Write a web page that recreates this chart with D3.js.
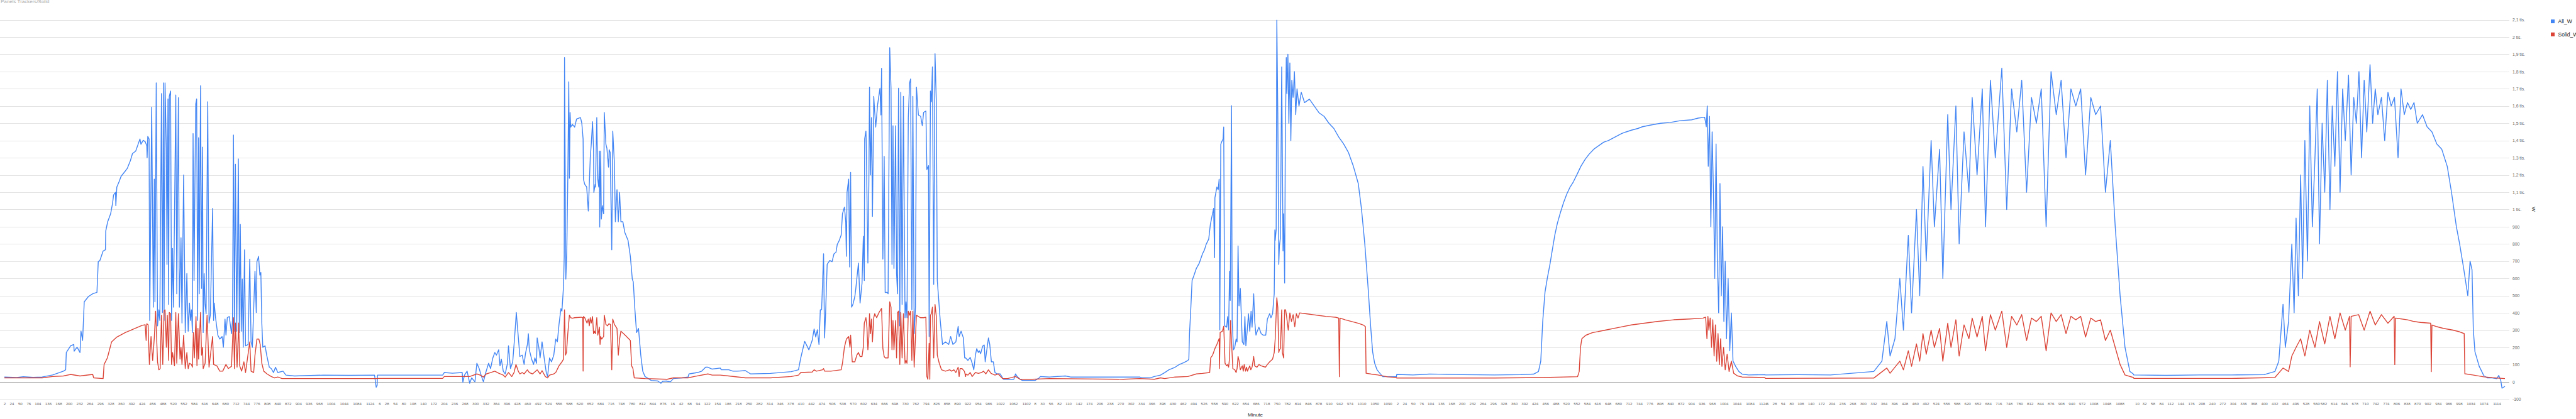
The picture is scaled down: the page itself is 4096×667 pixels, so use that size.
<!DOCTYPE html>
<html><head><meta charset="utf-8">
<script src="https://cdn.jsdelivr.net/npm/d3@7"></script>
<style>html,body{margin:0;padding:0;background:#fff;overflow:hidden}svg{display:block}</style>
</head><body><svg id="c" width="4096" height="667"></svg>
<script>
// ---------------- DATA ----------------
const chartTitle = "Panels Trackers/Solid";
const seriesNames = ["All_W", "Solid_W"];
const xTitle = "Minute";
const yTitle = "W";
// categories: each day's first and last logged minute
const dayStart = [2, 0, 0, 0, 0, 0, 0];
const dayEnd = [1146, 888, 1120, 1117, 1130, 1130, 1139];
// visible x tick labels (minute), per day
const ticksD1 = [2,24,50,76,104,136,168,200,232,264,296,328,360,392,424,456,488,520,552,584,616,648,680,712,744,776,808,840,872,904,936,968,1004,1044,1084,1124];
const ticksD2 = [6,28,54,80,108,140,172,204,236,268,300,332,364,396,428,460,492,524,556,588,620,652,684,716,748,780,812,844,876];
const ticksD3 = [16,42,68,94,122,154,186,218,250,282,314,346,378,410,442,474,506,538,570,602,634,666,698,730,762,794,826,858,890,922,954,986,1022,1062,1102];
const ticksD4 = [8,30,56,82,110,142,174,206,238,270,302,334,366,398,430,462,494,526,558,590,622,654,686,718,750,782,814,846,878,910,942,974,1010,1050,1090];
const ticksD5 = [2,24,50,76,104,136,168,200,232,264,296,328,360,392,424,456,488,520,552,584,616,648,680,712,744,776,808,840,872,904,936,968,1004,1044,1084,1124];
const ticksD6 = [6,28,54,80,108,140,172,204,236,268,300,332,364,396,428,460,492,524,556,588,620,652,684,716,748,780,812,844,876,908,940,972,1008,1048,1088];
const ticksD7 = [10,32,58,84,112,144,176,208,240,272,304,336,368,400,432,464,496,528,560,582,614,646,678,710,742,774,806,838,870,902,934,966,998,1034,1074,1114];
const yTicks = [-100,0,100,200,300,400,500,600,700,800,900,1000,1100,1200,1300,1400,1500,1600,1700,1800,1900,2000,2100];
const yTickLabels = ["-100","0","100","200","300","400","500","600","700","800","900","1 tis.","1,1 tis.","1,2 tis.","1,3 tis.","1,4 tis.","1,5 tis.","1,6 tis.","1,7 tis.","1,8 tis.","1,9 tis.","2 tis.","2,1 tis."];

// All_W [minute, watts] per day
const allW1 = [[2,28],[40,25],[60,30],[90,26],[118,28],[150,40],[183,62],[190,70],[192,170],[205,209],[215,217],[216,178],[225,201],[234,170],[237,294],[242,240],[247,464],[260,495],[273,511],[286,519],[290,697],[295,704],[305,759],[312,766],[313,875],[319,929],[328,975],[334,1037],[337,1084],[343,1099],[344,1022],[347,1130],[354,1161],[360,1192],[373,1223],[379,1238],[389,1285],[395,1324],[405,1339],[415,1393],[418,1409],[421,1378],[428,1401],[434,1393],[439,1370],[440,1300],[442,1424],[446,1409],[448,356],[454,1594],[459,433],[462,1176],[464,464],[468,1734],[472,325],[476,418],[479,356],[484,1672],[487,402],[490,1734],[492,356],[495,1734],[499,1347],[501,681],[504,1641],[506,449],[508,1656],[512,1687],[515,356],[518,774],[521,433],[528,1664],[531,511],[536,1649],[539,433],[544,836],[547,341],[552,1200],[557,286],[562,628],[566,294],[570,457],[573,356],[576,418],[579,286],[581,1440],[584,588],[589,1610],[592,1641],[595,356],[598,1416],[600,511],[604,1718],[607,542],[610,1362],[612,286],[615,628],[618,449],[621,395],[626,1625],[630,341],[634,387],[641,1006],[644,356],[646,457],[650,372],[657,271],[663,248],[670,263],[674,201],[679,364],[682,271],[686,372],[692,379],[699,279],[702,356],[705,1432],[708,294],[711,1262],[715,294],[720,1293],[723,286],[726,913],[729,294],[732,596],[735,201],[739,766],[742,209],[750,217],[755,712],[759,232],[763,201],[771,642],[775,402],[777,697],[782,728],[786,619],[789,635],[792,341],[795,201],[802,209],[807,155],[815,85],[821,77],[828,54],[834,85],[841,54],[857,62],[866,39],[892,34],[980,39],[1060,38],[1138,39],[1140,10],[1143,-31],[1146,-20]];
const allW2 = [[0,39],[100,39],[200,39],[205,54],[230,50],[260,54],[262,-3],[267,39],[275,62],[283,-8],[289,23],[299,0],[305,108],[312,77],[318,39],[325,0],[331,46],[341,108],[347,77],[354,139],[360,170],[365,155],[372,186],[376,93],[380,132],[386,62],[392,46],[399,108],[402,209],[408,77],[415,116],[421,263],[426,402],[432,263],[437,147],[444,155],[450,101],[454,163],[460,217],[463,279],[466,186],[473,132],[479,101],[483,139],[488,108],[490,255],[495,201],[499,139],[505,232],[512,132],[518,54],[522,31],[528,139],[534,116],[541,155],[547,248],[552,232],[557,333],[563,425],[566,410],[571,557],[573,728],[574,1881],[578,596],[581,759],[584,1176],[587,1741],[589,1181],[591,1563],[593,1478],[598,1494],[605,1478],[611,1525],[623,1533],[627,1501],[631,1409],[632,1176],[636,1146],[642,1130],[647,991],[650,1146],[653,1300],[656,1378],[660,1509],[663,1347],[664,1099],[668,1146],[669,1130],[673,1533],[676,1176],[679,1130],[681,1339],[682,898],[685,1339],[687,944],[690,1022],[694,975],[696,1563],[701,1378],[704,1355],[709,1246],[711,1347],[714,1331],[719,766],[722,1455],[727,1270],[730,929],[735,1115],[739,929],[743,1099],[747,929],[753,929],[759,867],[769,820],[776,728],[782,596],[785,580],[790,418],[795,286],[801,310],[808,155],[814,62],[821,31],[840,8],[860,5],[870,-8],[875,3],[888,5]];
const allW3 = [[0,3],[10,0],[19,19],[45,23],[64,28],[67,46],[93,54],[106,62],[118,85],[125,85],[138,74],[163,80],[166,70],[189,70],[202,62],[214,62],[240,65],[256,46],[317,49],[381,59],[403,70],[410,139],[422,235],[435,186],[445,240],[451,307],[456,260],[461,302],[466,217],[470,418],[474,418],[480,743],[483,255],[486,387],[491,681],[499,704],[506,697],[512,743],[518,751],[522,797],[528,820],[534,851],[538,975],[544,1014],[548,929],[550,728],[552,1099],[557,1176],[560,666],[563,1215],[566,433],[570,449],[576,495],[579,542],[587,689],[592,457],[598,573],[602,844],[605,588],[606,1409],[610,1455],[611,1378],[616,689],[619,1161],[621,1710],[624,1200],[627,1533],[630,960],[634,1656],[637,1563],[640,1478],[646,1610],[653,1703],[656,1548],[658,1819],[662,712],[666,1308],[669,519],[675,519],[678,511],[683,1938],[687,1703],[690,681],[693,1486],[696,658],[701,1486],[704,627],[707,511],[710,1703],[714,325],[717,1680],[721,449],[725,1656],[730,372],[733,464],[736,372],[740,1533],[744,1734],[747,1757],[751,418],[754,1656],[758,279],[762,433],[765,1710],[771,1548],[778,1540],[783,1486],[787,1563],[794,1571],[797,1231],[802,1254],[804,263],[808,1687],[811,1625],[814,1827],[818,565],[822,1904],[826,1625],[829,588],[832,511],[838,356],[845,217],[854,232],[864,217],[870,263],[877,217],[886,232],[893,322],[896,263],[902,294],[909,255],[913,139],[916,139],[923,124],[930,142],[936,108],[941,70],[946,155],[950,193],[955,170],[958,180],[962,163],[965,186],[969,209],[973,214],[976,116],[981,186],[986,255],[990,217],[995,116],[1001,116],[1006,54],[1013,46],[1022,46],[1032,15],[1045,15],[1064,15],[1069,46],[1074,31],[1083,15],[1090,8],[1120,8]];
const allW4 = [[0,8],[8,8],[21,23],[24,31],[53,28],[101,34],[117,28],[181,28],[246,28],[329,28],[336,23],[361,23],[374,31],[393,39],[406,54],[419,70],[438,85],[451,101],[464,111],[477,124],[480,132],[482,279],[485,387],[490,588],[496,619],[503,658],[512,689],[522,743],[528,766],[533,797],[541,828],[546,913],[551,960],[556,1006],[559,720],[560,1068],[566,1130],[570,1115],[573,1176],[575,302],[578,1378],[581,1393],[585,1409],[587,1478],[590,325],[596,317],[599,379],[602,302],[605,642],[607,472],[611,1602],[613,356],[617,186],[621,201],[625,248],[628,232],[631,789],[634,441],[638,542],[641,387],[644,232],[649,217],[652,379],[655,209],[659,294],[663,395],[667,294],[671,410],[674,317],[676,395],[679,511],[682,356],[686,271],[690,294],[695,317],[702,279],[708,271],[716,271],[721,364],[728,395],[732,372],[737,395],[742,511],[744,882],[745,820],[748,882],[750,2098],[753,1563],[756,681],[758,789],[761,836],[765,1827],[767,1324],[769,759],[771,975],[774,573],[776,1362],[779,1881],[781,1672],[784,1900],[787,1500],[790,1850],[793,1400],[796,1750],[800,1650],[804,1800],[808,1550],[812,1700],[818,1600],[825,1680],[835,1620],[850,1640],[865,1600],[880,1560],[895,1540],[910,1500],[925,1470],[940,1420],[955,1380],[970,1330],[985,1250],[1000,1150],[1010,1000],[1020,800],[1030,550],[1038,320],[1044,175],[1050,110],[1057,72],[1062,59],[1075,30],[1117,30]];
const allW5 = [[0,43],[50,40],[100,45],[152,44],[200,42],[300,40],[380,42],[420,45],[435,60],[442,120],[448,350],[455,520],[462,600],[470,680],[477,760],[485,850],[493,920],[502,980],[512,1040],[522,1090],[532,1130],[542,1160],[555,1210],[565,1250],[578,1290],[590,1320],[605,1350],[620,1370],[635,1390],[650,1400],[670,1420],[690,1440],[704,1450],[720,1460],[740,1470],[754,1480],[780,1490],[810,1500],[840,1505],[870,1515],[905,1520],[925,1530],[945,1535],[950,1480],[953,1600],[956,1250],[960,1540],[964,900],[968,1450],[972,1100],[976,600],[980,1380],[984,700],[988,400],[992,1150],[996,500],[1000,900],[1004,350],[1008,700],[1012,250],[1017,600],[1022,180],[1027,400],[1032,120],[1040,90],[1050,60],[1060,45],[1080,40],[1130,42]];
const allW6 = [[0,40],[100,42],[200,40],[333,60],[358,120],[373,350],[383,150],[398,250],[413,600],[424,300],[439,850],[449,400],[464,1000],[474,500],[484,1250],[494,700],[509,1400],[519,900],[535,1350],[545,600],[560,1550],[570,1000],[585,1600],[595,800],[610,1450],[625,1100],[635,1650],[650,1200],[666,1700],[676,900],[691,1750],[706,1300],[726,1820],[741,1000],[756,1700],[772,1450],[787,1750],[802,1100],[817,1650],[832,1500],[847,1700],[862,900],[877,1800],[893,1550],[908,1750],[923,1300],[938,1700],[953,1600],[968,1700],[983,1200],[999,1650],[1014,1550],[1029,1600],[1044,1100],[1059,1400],[1074,900],[1089,500],[1104,200],[1119,60],[1130,45]];
const allW7 = [[0,40],[100,38],[200,40],[300,40],[400,42],[433,60],[445,120],[458,450],[465,200],[475,350],[485,800],[492,400],[498,950],[505,500],[512,1200],[518,600],[525,1400],[533,700],[540,1600],[548,900],[556,1300],[563,1700],[570,800],[578,1500],[586,1100],[594,1750],[602,1000],[609,1600],[617,1250],[625,1800],[633,1100],[641,1700],[649,1400],[659,1780],[667,1200],[675,1650],[683,1500],[691,1800],[699,1300],[707,1750],[715,1450],[725,1840],[733,1500],[741,1700],[749,1550],[760,1650],[770,1400],[780,1680],[790,1600],[800,1650],[811,1300],[820,1700],[830,1550],[840,1620],[850,1580],[860,1620],[870,1500],[886,1550],[900,1480],[915,1450],[930,1380],[945,1350],[962,1250],[975,1100],[990,900],[1000,800],[1013,650],[1025,500],[1032,700],[1038,650],[1042,300],[1047,175],[1060,90],[1068,60],[1074,36],[1085,23],[1100,23],[1114,18],[1120,37],[1126,10],[1130,-37],[1139,-26]];

// Solid_W [minute, watts] per day
const solidW1 = [[2,23],[118,23],[150,31],[183,34],[205,43],[234,34],[273,43],[276,23],[305,19],[308,101],[318,139],[331,232],[347,260],[373,286],[399,307],[425,328],[434,331],[437,240],[439,337],[443,331],[447,101],[452,263],[457,124],[462,255],[466,410],[472,116],[476,70],[480,77],[484,387],[488,101],[492,410],[495,418],[499,201],[502,387],[506,124],[508,402],[512,395],[515,101],[518,170],[524,93],[528,402],[531,108],[536,395],[541,132],[544,201],[547,101],[552,271],[557,77],[562,170],[566,77],[570,108],[576,101],[579,85],[582,286],[585,139],[590,379],[593,93],[596,310],[598,132],[604,402],[607,155],[610,201],[612,77],[618,108],[624,387],[630,85],[641,263],[644,101],[654,93],[663,62],[672,62],[682,101],[689,77],[699,90],[705,372],[708,77],[711,341],[716,85],[721,341],[724,93],[730,62],[737,116],[742,54],[755,232],[759,62],[767,54],[771,155],[777,248],[783,248],[787,217],[792,108],[798,62],[808,46],[821,31],[831,23],[841,28],[854,19],[1146,19]];
const solidW2 = [[0,20],[200,20],[205,31],[260,31],[283,31],[305,46],[315,39],[325,28],[334,46],[347,54],[360,62],[372,50],[386,39],[392,28],[402,54],[412,31],[419,54],[425,101],[432,62],[437,46],[444,54],[450,46],[460,70],[466,54],[476,46],[490,70],[499,46],[505,65],[515,31],[522,23],[528,39],[541,46],[547,54],[557,93],[566,116],[571,132],[574,418],[577,155],[580,170],[584,279],[589,387],[593,372],[598,369],[605,372],[625,375],[630,372],[631,62],[632,379],[636,372],[643,341],[647,364],[650,325],[653,372],[656,341],[660,379],[663,279],[666,294],[669,279],[673,372],[676,271],[681,318],[683,217],[685,263],[688,248],[694,263],[696,387],[701,333],[706,325],[710,337],[715,333],[719,70],[722,364],[727,333],[735,310],[739,155],[743,248],[747,294],[760,271],[776,240],[780,93],[784,77],[788,23],[821,19],[888,15]];
const solidW3 = [[0,15],[19,23],[64,23],[83,31],[125,46],[138,39],[163,39],[189,34],[240,23],[317,23],[381,31],[403,39],[410,54],[445,57],[451,70],[458,62],[477,70],[480,77],[483,62],[502,62],[534,70],[538,108],[544,201],[550,248],[557,263],[561,201],[563,271],[568,116],[576,116],[582,155],[587,170],[592,147],[598,147],[602,201],[605,341],[610,372],[613,318],[616,186],[619,263],[621,395],[624,279],[627,364],[630,232],[634,372],[637,395],[643,372],[650,402],[658,426],[662,193],[666,147],[669,139],[678,139],[683,464],[687,433],[690,186],[693,356],[696,186],[701,356],[704,139],[707,402],[710,410],[714,101],[717,402],[721,139],[725,395],[730,108],[733,124],[736,108],[740,410],[744,387],[747,410],[751,124],[754,410],[758,85],[765,387],[771,379],[778,372],[787,372],[794,375],[797,31],[800,15],[804,224],[806,15],[808,387],[811,395],[814,433],[818,139],[822,449],[826,379],[829,155],[835,108],[842,70],[854,62],[867,70],[873,62],[880,70],[886,54],[893,85],[896,31],[899,77],[905,77],[912,62],[916,31],[917,46],[923,39],[930,54],[936,31],[946,54],[955,49],[965,54],[971,62],[978,46],[986,70],[994,49],[1006,39],[1016,46],[1029,19],[1045,19],[1069,31],[1083,15],[1120,15]];
const solidW4 = [[0,15],[53,19],[279,15],[329,19],[374,15],[393,23],[406,19],[438,28],[477,31],[503,46],[522,49],[544,54],[547,139],[553,155],[560,193],[566,217],[573,251],[574,77],[576,286],[583,294],[587,322],[589,224],[591,108],[596,93],[599,101],[602,85],[605,139],[608,356],[611,232],[615,77],[621,70],[625,54],[628,77],[631,147],[634,124],[638,70],[644,93],[647,62],[650,101],[654,62],[657,85],[660,62],[667,93],[670,70],[674,85],[679,147],[682,93],[689,85],[695,101],[702,93],[715,85],[721,101],[728,116],[737,132],[742,170],[745,248],[750,488],[753,433],[756,170],[758,186],[761,193],[765,418],[767,170],[771,139],[774,418],[777,418],[780,380],[785,300],[790,400],[795,350],[800,390],[805,320],[810,395],[815,370],[820,400],[840,395],[860,390],[880,385],[900,380],[930,375],[940,370],[942,30],[944,370],[960,360],[980,350],[1000,340],[1015,330],[1022,320],[1024,50],[1040,45],[1060,40],[1090,29],[1117,25]];
const solidW5 = [[0,22],[150,22],[300,22],[450,25],[555,30],[560,60],[564,200],[568,250],[580,270],[600,285],[640,300],[680,315],[720,330],[760,340],[800,350],[850,360],[900,365],[940,370],[948,375],[952,250],[955,380],[958,300],[962,370],[966,200],[970,360],[974,150],[978,330],[982,120],[986,280],[990,100],[994,250],[998,90],[1003,200],[1008,70],[1014,160],[1020,60],[1027,120],[1034,50],[1045,35],[1060,28],[1130,25]];
const solidW6 = [[0,20],[333,22],[373,80],[383,50],[413,120],[424,70],[439,180],[449,90],[464,220],[474,120],[484,280],[494,160],[509,300],[519,200],[535,310],[545,120],[560,340],[570,200],[585,360],[595,150],[610,330],[625,250],[635,370],[650,260],[666,380],[676,180],[691,390],[706,300],[726,410],[741,200],[756,380],[772,330],[787,390],[802,240],[817,370],[832,350],[847,380],[862,180],[877,400],[893,350],[908,390],[923,280],[938,380],[953,360],[968,380],[983,260],[999,370],[1014,350],[1029,360],[1044,240],[1059,300],[1074,200],[1089,100],[1104,40],[1130,25]];
const solidW7 = [[0,20],[300,20],[433,25],[458,80],[475,60],[485,150],[498,200],[512,250],[525,150],[540,300],[556,200],[570,350],[586,220],[602,380],[617,250],[633,400],[649,300],[662,380],[664,87],[667,380],[690,390],[707,300],[725,410],[741,330],[760,390],[780,340],[799,380],[801,100],[803,370],[840,360],[860,350],[880,345],[911,340],[913,59],[915,330],[930,320],[950,310],[980,300],[1000,290],[1014,280],[1016,47],[1040,40],[1074,29],[1100,24],[1139,19]];

const allW = [allW1, allW2, allW3, allW4, allW5, allW6, allW7];
const solidW = [solidW1, solidW2, solidW3, solidW4, solidW5, solidW6, solidW7];
const dayTicks = [ticksD1, ticksD2, ticksD3, ticksD4, ticksD5, ticksD6, ticksD7];

// ---------------- CHART ----------------
const FONT = "'Liberation Sans', Arial, sans-serif";
const colors = ["#4285f4", "#db4437"];
const svg = d3.select("#c").style("font-family", FONT);

const lens = dayStart.map((s, i) => dayEnd[i] - s + 1);
const offs = [];
let acc = 0;
lens.forEach(l => { offs.push(acc); acc += l; });
const total = acc;
const gi = (d, m) => offs[d] + m - dayStart[d];

const x = d3.scaleLinear().domain([0, total - 1]).range([7, 3983]);
const y = d3.scaleLinear().domain([-100, 2100]).range([635.3, 31.6]);

// gridlines
svg.append("g").selectAll("line").data(yTicks).join("line")
  .attr("x1", 0).attr("x2", 3990)
  .attr("y1", d => Math.round(y(d)) + 0.5).attr("y2", d => Math.round(y(d)) + 0.5)
  .attr("stroke", d => d === 0 ? "#9e9e9e" : "#e3e3e3").attr("stroke-width", 1);

// y axis labels (right)
const yAxis = d3.axisRight(y).tickValues(yTicks)
  .tickFormat(d => yTickLabels[yTicks.indexOf(d)]).tickSize(0).tickPadding(0);
const gy = svg.append("g").attr("transform", "translate(3995,0)").call(yAxis);
gy.select(".domain").remove();
gy.selectAll("text").attr("font-size", 6.8).attr("fill", "#666").attr("font-family", FONT);

// x axis labels
const tickIdx = [], tickLab = new Map();
dayTicks.forEach((arr, d) => arr.forEach(m => { const g = gi(d, m); tickIdx.push(g); tickLab.set(g, String(m)); }));
const xAxis = d3.axisBottom(x).tickValues(tickIdx).tickFormat(g => tickLab.get(g)).tickSize(0).tickPadding(3);
const gx = svg.append("g").attr("transform", "translate(0,638)").call(xAxis);
gx.select(".domain").remove();
gx.selectAll("text").attr("font-size", 6.2).attr("fill", "#666").attr("font-family", FONT);

// lines
const line = d3.line().x(p => x(p[0])).y(p => y(p[1]));
[allW, solidW].forEach((ser, si) => {
  const pts = [];
  ser.forEach((arr, d) => arr.forEach(p => pts.push([gi(d, p[0]), p[1]])));
  svg.append("path").datum(pts).attr("d", line)
    .attr("fill", "none").attr("stroke", colors[si]).attr("stroke-width", 1.4)
    .attr("stroke-linejoin", "round");
});

// title
svg.append("text").attr("x", 1).attr("y", 4.5).attr("font-size", 8).attr("fill", "#aaa").text(chartTitle);
// axis titles
svg.append("text").attr("x", 1996).attr("y", 663).attr("text-anchor", "middle")
  .attr("font-size", 8).attr("fill", "#222").text(xTitle);
svg.append("text").attr("transform", "translate(4026,333) rotate(90)").attr("text-anchor", "middle")
  .attr("font-size", 8).attr("fill", "#222").text(yTitle);
// legend
const lg = svg.append("g");
seriesNames.forEach((n, i) => {
  lg.append("rect").attr("x", 4056).attr("y", 31 + i * 20.7).attr("width", 6).attr("height", 6).attr("fill", colors[i]);
  lg.append("text").attr("x", 4067.5).attr("y", 37 + i * 20.7).attr("font-size", 8.5).attr("fill", "#222").text(n);
});
</script></body></html>
